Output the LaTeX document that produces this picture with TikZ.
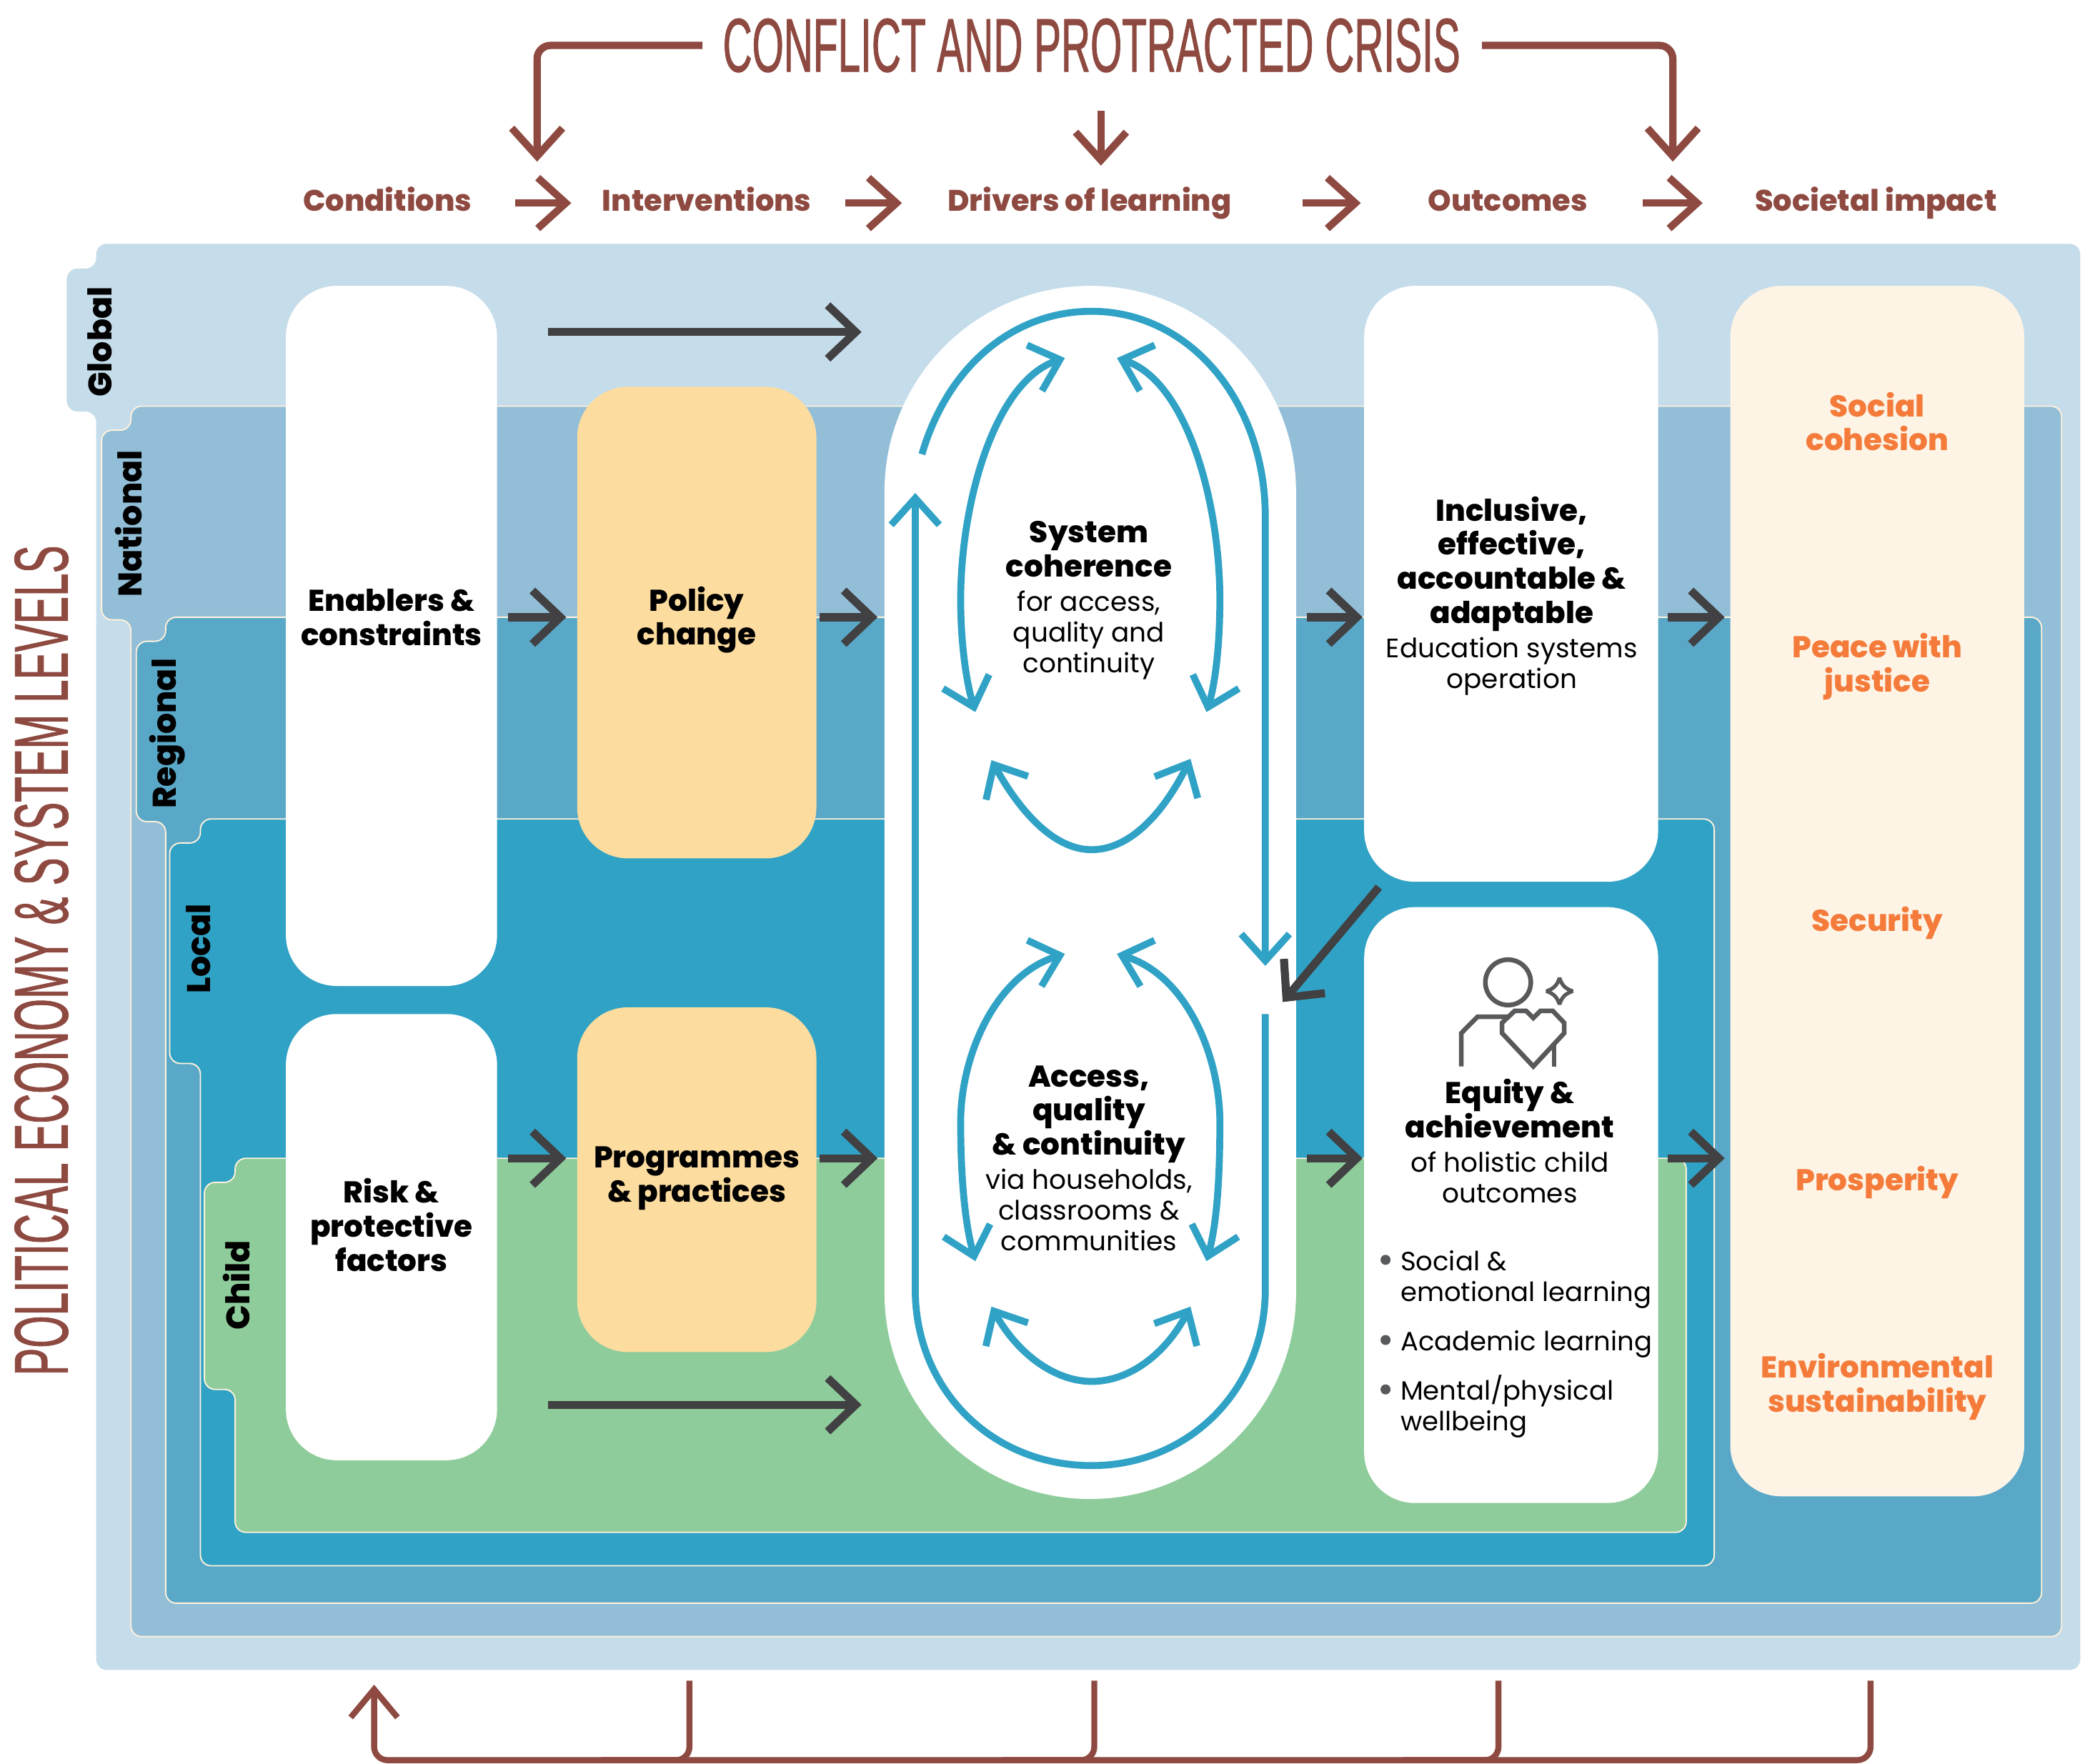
\documentclass[tikz,border=0pt]{standalone}
\usepackage{fontspec}
\setmainfont{Poppins}[BoldFont={Poppins ExtraBold}]
\newfontfamily\condfont[FakeStretch=0.533,FakeBold=0.8]{Liberation Sans}
\newfontfamily\sidefont[FakeStretch=0.5465,FakeBold=0.8]{Liberation Sans}
\usetikzlibrary{arrows.meta}
\definecolor{globalcol}{HTML}{C5DCEA}
\definecolor{nationalcol}{HTML}{92BED7}
\definecolor{regionalcol}{HTML}{5AA8C8}
\definecolor{localcol}{HTML}{30A2C5}
\definecolor{childcol}{HTML}{8FCC9B}
\definecolor{creamcol}{HTML}{FFF2DC}
\definecolor{policycol}{HTML}{FDDD9F}
\definecolor{impactcol}{HTML}{FEF4E6}
\definecolor{browncol}{HTML}{8E4A41}
\definecolor{orangecol}{HTML}{F47B3A}
\definecolor{darkcol}{HTML}{414042}
\definecolor{iconcol}{HTML}{58595B}
\tikzset{
  level/.style={draw=creamcol,line width=1pt,rounded corners=8pt},
  box/.style={fill=white,inner sep=0pt,rounded corners=38pt},
  levellabel/.style={rotate=90,inner sep=0pt,font=\fontsize{24.5}{24}\selectfont\bfseries},
  head/.style={inner sep=0pt,text height=17pt,text depth=5pt,text=browncol,font=\fontsize{22.2}{24}\selectfont\bfseries},
  boxlabel/.style={inner sep=0pt,align=center,font=\fontsize{22.5}{25.6}\selectfont\bfseries},
  impactlabel/.style={boxlabel,text=orangecol},
  listlabel/.style={inner sep=0pt,anchor=west,align=left,font=\fontsize{19.8}{23}\selectfont},
  bullet/.style={circle,fill=iconcol,inner sep=0pt,minimum size=7.5pt},
  brownline/.style={draw=browncol,line width=5.5pt,rounded corners=10pt},
  brownarrow/.style={brownline,-{Straight Barb[length=21pt,width=38pt]}},
  darkarrow/.style={draw=darkcol,line width=6pt,-{Straight Barb[length=21pt,width=40pt]}},
  loopline/.style={draw=localcol,line width=5.2pt},
  looparrow/.style={loopline,-{Straight Barb[length=20pt,width=36pt]}},
  bothloop/.style={loopline,{Straight Barb[length=20pt,width=36pt]}-{Straight Barb[length=20pt,width=36pt]}},
  iconline/.style={draw=iconcol,line width=3.5pt}
}
\newcommand{\regtext}{\fontsize{20}{23}\selectfont\mdseries}
\begin{document}
\begin{tikzpicture}[x=1pt,y=-1pt]
\useasboundingbox (0,0) rectangle (1568,1320);
%levels
\fill[globalcol,rounded corners=8pt] (72,182.5) -- (1557,182.5) -- (1557,1250) -- (72,1250) -- (72,308) -- (50,308) -- (50,201) -- (72,201) -- cycle;
\draw[level,fill=nationalcol] (98,304) -- (1543,304) -- (1543,1225) -- (98,1225) -- (98,464) -- (76,464) -- (76,322) -- (98,322) -- cycle;
\draw[level,fill=regionalcol] (124,462) -- (1528,462) -- (1528,1200) -- (124,1200) -- (124,615) -- (102,615) -- (102,480) -- (124,480) -- cycle;
\draw[level,fill=localcol] (150,613) -- (1283,613) -- (1283,1172) -- (150,1172) -- (150,796) -- (127,796) -- (127,631) -- (150,631) -- cycle;
\draw[level,fill=childcol] (176,867) -- (1262,867) -- (1262,1147) -- (176,1147) -- (176,1040) -- (153,1040) -- (153,885) -- (176,885) -- cycle;
\node[levellabel] (global) at (74.5,256) {Global};
\node[levellabel] (national) at (96.5,392) {National};
\node[levellabel] (regional) at (125,549) {Regional};
\node[levellabel] (local) at (148.5,710) {Local};
\node[levellabel] (child) at (177,962) {Child};
%title and headings
\node[inner sep=0pt,text=browncol,font=\fontsize{57}{57}\selectfont\condfont] (title) at (817,34) {CONFLICT AND PROTRACTED CRISIS};
\node[rotate=90,inner sep=0pt,text=browncol,font=\fontsize{57}{57}\selectfont\sidefont] (economy) at (31,719) {POLITICAL ECONOMY \& SYSTEM LEVELS};
\node[head] (conditions) at (290,152) {Conditions};
\node[head] (interventions) at (529,152) {Interventions};
\node[head] (drivers) at (815.5,152) {Drivers of learning};
\node[head] (outcomes) at (1128.5,152) {Outcomes};
\node[head] (societal) at (1404,152) {Societal impact};
%boxes
\node[box,minimum width=158pt,minimum height=524pt] (enablers) at (293,476) {};
\node[box,minimum width=158pt,minimum height=334pt] (risk) at (293,926) {};
\node[box,fill=policycol,minimum width=179pt,minimum height=353pt] (policy) at (521.5,466) {};
\node[box,fill=policycol,minimum width=179pt,minimum height=258pt] (programmes) at (521.5,883) {};
\node[box,rounded corners=153.9pt,minimum width=308pt,minimum height=908pt] (central) at (816,668) {};
\node[box,minimum width=220pt,minimum height=446pt] (inclusive) at (1131,437) {};
\node[box,minimum width=220pt,minimum height=446pt] (equity) at (1131,902) {};
\node[box,fill=impactcol,minimum width=220pt,minimum height=906pt] (impact) at (1405,667) {};
%box texts
\node[boxlabel] (enablerstext) at (293,462) {Enablers \&\\constraints};
\node[boxlabel] (risktext) at (293,917) {Risk \&\\protective\\factors};
\node[boxlabel] (policytext) at (521.5,464) {Policy\\change};
\node[boxlabel] (programmestext) at (521.5,882) {Programmes\\\& practices};
\node[boxlabel] (systemtext) at (815,449.5) {System\\coherence\\{\regtext for access,}\\[-2.6pt]{\regtext quality and}\\[-2.6pt]{\regtext continuity}};
\node[boxlabel] (accesstext) at (815,867) {Access,\\quality\\\& continuity\\{\regtext via households,}\\[-2.6pt]{\regtext classrooms \&}\\[-2.6pt]{\regtext communities}};
\node[boxlabel] (inclusivetext) at (1131.5,446) {Inclusive,\\effective,\\accountable \&\\adaptable\\{\regtext Education systems}\\[-2.6pt]{\regtext operation}};
\node[boxlabel] (equitytext) at (1130,854) {Equity \&\\achievement\\{\regtext of holistic child}\\[-2.6pt]{\regtext outcomes}};
\node[impactlabel] (cohesion) at (1405,315.5) {Social\\cohesion};
\node[impactlabel] (peace) at (1405,499) {Peace with\\justice};
\node[impactlabel] (security) at (1405,691) {Security};
\node[impactlabel] (prosperity) at (1405,885) {Prosperity};
\node[impactlabel] (sustainability) at (1405,1038) {Environmental\\sustainability};
%learning list
\node[bullet] (socialdot) at (1037,943) {};
\node[bullet] (academicdot) at (1037,1003) {};
\node[bullet] (mentaldot) at (1037,1040) {};
\node[listlabel] (socialtext) at (1048,957.5) {Social \&\\emotional learning};
\node[listlabel] (academictext) at (1048,1006) {Academic learning};
\node[listlabel] (mentaltext) at (1048,1052.5) {Mental/physical\\wellbeing};
%icon
\draw[iconline] (1128.7,735.3) circle (17);
\draw[iconline] (1093.7,798.2) -- (1093.7,773.3) -- (1105.8,761.1) -- (1130,761.1);
\draw[iconline,line join=miter] (1147.6,798.2) -- (1124.2,773.3) -- (1124.2,765.6) -- (1133.6,756.7) -- (1142.2,756.7) -- (1147.6,762) -- (1152.9,756.7) -- (1162.2,756.7) -- (1170.7,765.6) -- (1170.7,773.3) -- cycle;
\draw[iconline] (1163.2,798.2) -- (1163.2,781.6);
\draw[iconline,line width=2.8pt,line join=bevel] (1167.2,732) .. controls (1169,737.5) and (1171.5,740) .. (1177,741.9) .. controls (1171.5,743.8) and (1169,746.3) .. (1167.2,751.8) .. controls (1165.4,746.3) and (1162.9,743.8) .. (1157.4,741.9) .. controls (1162.9,740) and (1165.4,737.5) .. cycle;
%top row
\draw[brownarrow,shorten <=32pt,shorten >=23pt] (conditions.east) -- (interventions.west);
\draw[brownarrow,shorten <=25pt,shorten >=34pt] (interventions.east) -- (drivers.west);
\draw[brownarrow,shorten <=53pt,shorten >=50pt] (drivers.east) -- (outcomes.west);
\draw[brownarrow,shorten <=41pt,shorten >=39pt] (outcomes.east) -- (societal.west);
\coordinate (crisisleft) at (402,121);
\coordinate (crisisright) at (1252,121);
\coordinate (crisisstart) at (824,83);
\coordinate (crisisend) at (824,124);
\draw[brownarrow,shorten <=15pt] (title.west) -| (crisisleft);
\draw[brownarrow,shorten <=16pt] (title.east) -| (crisisright);
\draw[brownarrow] (crisisstart) -- (crisisend);
%dark arrows
\coordinate (globalrow) at (0,248.5);
\coordinate (regionalrow) at (0,462);
\coordinate (childrow) at (0,867);
\coordinate (lowrow) at (0,1051.5);
\coordinate (feedstart) at (1032,664);
\coordinate (feedend) at (960,750);
\draw[darkarrow,shorten <=38pt,shorten >=17pt] (enablers.east |- globalrow) -- (central.west |- globalrow);
\draw[darkarrow,shorten <=8pt,shorten >=8pt] (enablers.east |- regionalrow) -- (policy.west |- regionalrow);
\draw[darkarrow,shorten <=2pt,shorten >=5pt] (policy.east |- regionalrow) -- (central.west |- regionalrow);
\draw[darkarrow,shorten <=8pt,shorten >=1pt] (central.east |- regionalrow) -- (inclusive.west |- regionalrow);
\draw[darkarrow,shorten <=7pt,shorten >=4pt] (inclusive.east |- regionalrow) -- (impact.west |- regionalrow);
\draw[darkarrow,shorten <=8pt,shorten >=8pt] (risk.east |- childrow) -- (programmes.west |- childrow);
\draw[darkarrow,shorten <=2pt,shorten >=5pt] (programmes.east |- childrow) -- (central.west |- childrow);
\draw[darkarrow,shorten <=8pt,shorten >=1pt] (central.east |- childrow) -- (equity.west |- childrow);
\draw[darkarrow,shorten <=7pt,shorten >=4pt] (equity.east |- childrow) -- (impact.west |- childrow);
\draw[darkarrow,shorten <=38pt,shorten >=17pt] (risk.east |- lowrow) -- (central.west |- lowrow);
\draw[darkarrow] (feedstart) -- (feedend);
%outer loop
\coordinate (outerstart) at (690,340);
\coordinate (outerend) at (947,723);
\coordinate (returnstart) at (947,759);
\coordinate (returnend) at (685,369);
\draw[looparrow] (outerstart) .. controls (710,272) and (760,233) .. (817,233) .. controls (890,233) and (947,300) .. (947,387) -- (outerend);
\draw[looparrow] (returnstart) -- (947,965) .. controls (947,1040) and (890,1097) .. (817,1097) .. controls (742,1097) and (685,1040) .. (685,965) -- (returnend);
%upper loops
\coordinate (sysleftup) at (797,268);
\coordinate (sysleftdown) at (730,533);
\coordinate (sysrightup) at (836,268);
\coordinate (sysrightdown) at (903,533);
\coordinate (sysbowleft) at (742,569);
\coordinate (sysbowright) at (891,568);
\draw[bothloop] (sysleftup) .. controls (745,285) and (719,375) .. (719,449) .. controls (719,480) and (723,510) .. (sysleftdown);
\draw[bothloop] (sysrightup) .. controls (888,285) and (913,375) .. (913,449) .. controls (913,480) and (910,510) .. (sysrightdown);
\draw[bothloop] (sysbowleft) .. controls (765,610) and (790,636) .. (817,636) .. controls (845,636) and (870,610) .. (sysbowright);
%lower loops
\coordinate (accleftup) at (797,714);
\coordinate (accleftdown) at (730,944);
\coordinate (accrightup) at (836,714);
\coordinate (accrightdown) at (903,944);
\coordinate (accbowleft) at (742,978);
\coordinate (accbowright) at (891,978);
\draw[bothloop] (accleftup) .. controls (745,730) and (719,790) .. (719,840) .. controls (719,880) and (722,915) .. (accleftdown);
\draw[bothloop] (accrightup) .. controls (888,730) and (913,790) .. (913,840) .. controls (913,880) and (911,915) .. (accrightdown);
\draw[bothloop] (accbowleft) .. controls (762,1014) and (790,1034) .. (817,1034) .. controls (845,1034) and (872,1014) .. (accbowright);
%bottom return
\coordinate (backend) at (280,1261);
\coordinate (backstart) at (1400,1258);
\coordinate (backa) at (516,1258);
\coordinate (backb) at (819,1258);
\coordinate (backc) at (1121.5,1258);
\draw[brownline,line width=4.5pt,-{Straight Barb[length=21pt,width=35pt]}] (backstart) |- (540,1317.5) -| (backend);
\draw[brownline,line width=4.5pt] (backa) |- (450,1317.5);
\draw[brownline,line width=4.5pt] (backb) |- (750,1317.5);
\draw[brownline,line width=4.5pt] (backc) |- (1050,1317.5);
\end{tikzpicture}
\end{document}
